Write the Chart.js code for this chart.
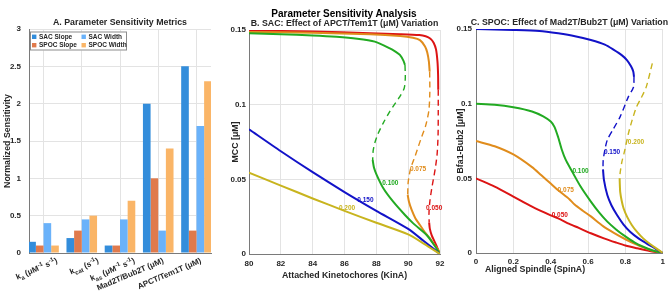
<!DOCTYPE html>
<html>
<head>
<meta charset="utf-8">
<title>Parameter Sensitivity Analysis</title>
<script src="https://cdn.jsdelivr.net/npm/chart.js@4.4.1/dist/chart.umd.min.js"></script>
<style>
  html, body { margin:0; padding:0; background:#ffffff; }
  body { width:669px; height:294px; position:relative; overflow:hidden; }
  .panel { position:absolute; top:0; }
  .panel canvas { display:block; }
  #mainTitle { position:absolute; left:344px; top:13px; transform:translate(-50%,-50%);
    font:bold 10px "Liberation Sans", Arial, sans-serif; color:#000; white-space:nowrap; }
</style>
</head>
<body>
<div class="panel" style="left:0px"><canvas id="chartA" width="230" height="294"></canvas></div>
<div class="panel" style="left:225px"><canvas id="chartB" width="230" height="294"></canvas></div>
<div class="panel" style="left:440px"><canvas id="chartC" width="229" height="294"></canvas></div>
<div id="mainTitle">Parameter Sensitivity Analysis</div>
<script>
// ================= DATA =================
// Panel A: parameter sensitivity metrics
const paramCategories = ['k_{a} (\u03BCM^{-1} s^{-1})', 'k_{cat} (s^{-1})', 'k_{as} (\u03BCM^{-1} s^{-1})', 'Mad2T/Bub2T (\u03BCM)', 'APCT/Tem1T (\u03BCM)'];
const metricNames = ['SAC Slope', 'SPOC Slope', 'SAC Width', 'SPOC Width'];
const sacSlope   = [0.15, 0.20, 0.10, 2.00, 2.50];
const spocSlope  = [0.10, 0.30, 0.10, 1.00, 0.30];
const sacWidth   = [0.40, 0.45, 0.45, 0.30, 1.70];
const spocWidth  = [0.10, 0.50, 0.70, 1.40, 2.30];
const sensTicks  = [0, 0.5, 1, 1.5, 2, 2.5, 3];
const sensTickLabels = ['0', '0.5', '1', '1.5', '2', '2.5', '3'];

// Panel B: SAC, MCC vs attached kinetochores for APCT/Tem1T levels
const apcLevels = ['0.050', '0.075', '0.100', '0.150', '0.200'];
const sac050Upper = [[80,0.1496],[84,0.1490],[87.6,0.1478],[89.5,0.1472],[90.7,0.1466],[91.1,0.1458],[91.4,0.1442],[91.6,0.1415],[91.75,0.137],[91.84,0.129],[91.88,0.12],[91.89,0.11]];
const sac050Mid   = [[91.89,0.11],[91.89,0.095],[91.88,0.08],[91.82,0.067],[91.7,0.057],[91.5,0.045],[91.37,0.036],[91.31,0.028],[91.32,0.021]];
const sac050Lower = [[91.32,0.021],[91.36,0.017],[91.48,0.0125],[91.65,0.0085],[91.8,0.005],[91.92,0.0018],[92,0]];
const sac075Upper = [[80,0.1487],[84,0.1481],[87.6,0.1472],[89.5,0.146],[90.3,0.1448],[90.74,0.1432],[91.06,0.139],[91.2,0.135],[91.3,0.129],[91.35,0.1222]];
const sac075Mid   = [[91.35,0.1222],[91.36,0.108],[91.3,0.096],[91.1,0.086],[90.8,0.077],[90.45,0.066],[90.15,0.057],[90.0,0.048],[89.97,0.0395]];
const sac075Lower = [[89.97,0.0395],[90.05,0.035],[90.22,0.0295],[90.45,0.024],[90.74,0.0194],[91.05,0.0145],[91.37,0.0105],[91.65,0.006],[91.9,0.0025],[92,0]];
const sac100Upper = [[80,0.1478],[82,0.1472],[84,0.1464],[85.5,0.1455],[86.8,0.1442],[87.9,0.1422],[88.85,0.1377],[89.2,0.1355],[89.48,0.1333],[89.7,0.1295],[89.8,0.1266]];
const sac100Mid   = [[89.8,0.1266],[89.82,0.118],[89.75,0.111],[89.45,0.105],[89.1,0.0995],[88.85,0.0955],[88.45,0.088],[88.12,0.0808],[87.92,0.075],[87.8,0.069],[87.77,0.063]];
const sac100Lower = [[87.77,0.063],[87.85,0.058],[88.02,0.053],[88.44,0.044],[89.06,0.035],[89.8,0.0261],[90.32,0.0205],[91.16,0.0127],[91.6,0.0065],[92,0]];
const sac150Lower = [[80,0.0835],[82,0.0688],[84,0.0548],[86,0.0415],[88,0.0289],[90,0.0168],[91,0.0085],[92,0]];
const sac200Lower = [[80,0.0545],[82,0.0458],[84,0.0372],[86,0.0289],[88,0.0209],[90,0.0131],[91,0.0068],[92,0]];
const sacXTicks = [80, 82, 84, 86, 88, 90, 92];
const sacXTickLabels = ['80', '82', '84', '86', '88', '90', '92'];
const mccTicks = [0, 0.05, 0.1, 0.15];
const mccTickLabels = ['0', '0.05', '0.1', '0.15'];
const sacLabelX = [91.12, 90.11, 88.37, 86.8, 85.65];
const sacLabelY = [0.0306, 0.0567, 0.0473, 0.0362, 0.0306];

// Panel C: SPOC, Bfa1-Bub2 vs aligned spindle for Mad2T/Bub2T levels
const madLevels = ['0.050', '0.075', '0.100', '0.150', '0.200'];
const spoc050 = [[0,0.05],[0.1,0.0445],[0.2,0.0378],[0.3,0.031],[0.4,0.0252],[0.44,0.0232],[0.5,0.0195],[0.55,0.0168],[0.615,0.0132],[0.685,0.0098],[0.75,0.007],[0.8,0.005],[0.86,0.0032],[0.93,0.0013],[1,0]];
const spoc075 = [[0,0.075],[0.1,0.0715],[0.2,0.066],[0.3,0.0575],[0.35,0.052],[0.4,0.0465],[0.44,0.042],[0.5,0.036],[0.528,0.0325],[0.57,0.0285],[0.615,0.0245],[0.68,0.018],[0.738,0.0135],[0.8,0.0092],[0.86,0.0056],[0.93,0.0022],[1,0]];
const spoc100 = [[0,0.1],[0.1,0.0993],[0.2,0.0976],[0.3,0.0948],[0.36,0.0915],[0.4,0.088],[0.42,0.0845],[0.44,0.0775],[0.46,0.069],[0.48,0.0625],[0.51,0.0556],[0.56,0.0445],[0.615,0.0344],[0.66,0.027],[0.703,0.021],[0.75,0.0158],[0.79,0.012],[0.85,0.007],[0.895,0.0042],[0.95,0.0015],[1,0]];
const spoc150Upper = [[0,0.15],[0.2,0.1494],[0.34,0.1487],[0.44,0.1471],[0.53,0.1452],[0.615,0.1426],[0.69,0.1395],[0.738,0.136],[0.78,0.1325],[0.808,0.1292],[0.83,0.125],[0.842,0.1215],[0.846,0.118]];
const spoc150Mid   = [[0.846,0.118],[0.843,0.111],[0.816,0.1047],[0.772,0.0913],[0.735,0.083],[0.703,0.0757],[0.69,0.069],[0.681,0.062],[0.68,0.056]];
const spoc150Lower = [[0.68,0.056],[0.685,0.049],[0.703,0.0388],[0.725,0.032],[0.755,0.0254],[0.79,0.019],[0.825,0.0143],[0.87,0.0098],[0.912,0.0065],[0.96,0.003],[1,0]];
const spoc200Mid   = [[0.944,0.127],[0.912,0.1114],[0.885,0.104],[0.86,0.098],[0.836,0.089],[0.816,0.08],[0.795,0.068],[0.781,0.061],[0.772,0.054],[0.769,0.05]];
const spoc200Lower = [[0.769,0.05],[0.77,0.046],[0.772,0.041],[0.78,0.035],[0.79,0.030],[0.81,0.024],[0.834,0.0188],[0.86,0.0145],[0.895,0.0098],[0.93,0.0062],[0.965,0.0031],[1,0]];
const spinTicks = [0, 0.2, 0.4, 0.6, 0.8, 1];
const spinTickLabels = ['0', '0.2', '0.4', '0.6', '0.8', '1'];
const bfaTicks = [0, 0.05, 0.1, 0.15];
const bfaTickLabels = ['0', '0.05', '0.1', '0.15'];
const spocLabelX = [0.405, 0.437, 0.516, 0.685, 0.813];
const spocLabelY = [0.0252, 0.0422, 0.0545, 0.0672, 0.0745];

// ================= STYLE =================
const FONT = '"Liberation Sans", Arial, Helvetica, sans-serif';
Chart.defaults.font.family = FONT;
Chart.defaults.font.weight = 'bold';
Chart.defaults.font.size = 8;
Chart.defaults.color = '#262626';
Chart.defaults.animation = false;

const GRID = '#e3e3e3';
const AXIS = '#7a7a7a';
const TXT = '#262626';
const barColors = ['rgb(51,141,219)', 'rgb(224,122,76)', 'rgb(106,178,250)', 'rgb(250,181,103)'];
const levelColors = ['#dc1414', '#e08c1c', '#22aa22', '#1212c8', '#c8b41e'];

function fnt(sz) { return 'bold ' + sz + 'px ' + FONT; }
function txt(ctx, s, x, y, o) {
  ctx.save();
  ctx.font = fnt(o.size || 8.8);
  ctx.fillStyle = o.color || TXT;
  ctx.textAlign = o.align || 'center';
  ctx.textBaseline = o.base || 'middle';
  ctx.translate(x, y);
  if (o.rot) ctx.rotate(o.rot);
  ctx.fillText(s, 0, 0);
  ctx.restore();
}
function parseRich(s) {
  const segs = []; let buf = ''; let i = 0;
  while (i < s.length) {
    const c = s[i];
    if ((c === '_' || c === '^') && s[i + 1] === '{') {
      if (buf) { segs.push({ t: buf, m: 0 }); buf = ''; }
      const j = s.indexOf('}', i + 2);
      segs.push({ t: s.slice(i + 2, j), m: c === '_' ? -1 : 1 });
      i = j + 1;
    } else { buf += c; i++; }
  }
  if (buf) segs.push({ t: buf, m: 0 });
  return segs;
}
function richWidth(ctx, segs, sz) {
  let w = 0;
  segs.forEach(g => { ctx.font = fnt(g.m ? sz * 0.75 : sz); w += ctx.measureText(g.t).width; });
  return w;
}
function drawRich(ctx, segs, x, y, sz) {
  segs.forEach(g => {
    ctx.font = fnt(g.m ? sz * 0.75 : sz);
    const dy = g.m === -1 ? sz * 0.3 : (g.m === 1 ? -sz * 0.4 : 0);
    ctx.fillText(g.t, x, y + dy);
    x += ctx.measureText(g.t).width;
  });
}
const pts = arr => arr.map(p => ({ x: p[0], y: p[1] }));
const fixW = w => s => { s.width = w; };
const fixH = h => s => { s.height = h; };
const setTicks = vals => s => { s.ticks = vals.map(v => ({ value: v })); };

// ================= PANEL A =================
const barSeries = [sacSlope, spocSlope, sacWidth, spocWidth];
const labelShift = [12, 15, 13, 3.5, 3];

const panelAText = {
  id: 'panelAText',
  afterDraw(chart) {
    const ctx = chart.ctx, a = chart.chartArea, xs = chart.scales.x;
    txt(ctx, 'A. Parameter Sensitivity Metrics', (a.left + a.right) / 2, 23, {});
    txt(ctx, 'Normalized Sensitivity', 8, (a.top + a.bottom) / 2, { rot: -Math.PI / 2 });
    ctx.save();
    ctx.fillStyle = TXT; ctx.textBaseline = 'alphabetic'; ctx.textAlign = 'left';
    paramCategories.forEach((lab, i) => {
      const segs = parseRich(lab);
      const px = xs.getPixelForValue(i + 1) + labelShift[i];
      ctx.save();
      ctx.translate(px, a.bottom + 4);
      ctx.rotate(-23 * Math.PI / 180);
      const w = richWidth(ctx, segs, 8);
      drawRich(ctx, segs, -w, 6, 8);
      ctx.restore();
    });
    ctx.restore();
    const bx = a.left + 1, by = a.top + 2.5, bw = 97, bh = 19;
    ctx.save();
    ctx.fillStyle = '#ffffff'; ctx.fillRect(bx, by, bw, bh);
    ctx.strokeStyle = '#8c8c8c'; ctx.lineWidth = 1; ctx.strokeRect(bx + 0.5, by + 0.5, bw - 1, bh - 1);
    chart.data.datasets.forEach((ds, k) => {
      const col = Math.floor(k / 2), row = k % 2;
      const sx = bx + 2 + col * 49.5, sy = by + 5.3 + row * 8.4;
      ctx.fillStyle = ds.backgroundColor;
      ctx.fillRect(sx, sy - 2.2, 4.4, 4.4);
      txt(ctx, ds.label, sx + 7, sy + 0.3, { size: 6.5, align: 'left' });
    });
    ctx.restore();
  }
};

new Chart(document.getElementById('chartA'), {
  type: 'bar',
  data: {
    datasets: barSeries.map((s, k) => ({
      label: metricNames[k],
      data: s.map((v, i) => ({ x: i + 1, y: v })),
      backgroundColor: barColors[k],
      borderWidth: 0
    }))
  },
  options: {
    responsive: false,
    animation: false,
    layout: { padding: { top: 29, right: 19, bottom: 0, left: 0 } },
    plugins: { legend: { display: false }, tooltip: { enabled: false }, title: { display: false } },
    datasets: { bar: { barPercentage: 1.0, categoryPercentage: 0.8 } },
    scales: {
      x: {
        type: 'linear', min: 0.62, max: 5.38, offset: false,
        grid: { offset: false, color: GRID, drawTicks: false },
        border: { color: AXIS },
        ticks: { display: false },
        afterBuildTicks: setTicks([1, 2, 3, 4, 5]),
        afterFit: fixH(41)
      },
      y: {
        min: 0, max: 3,
        grid: { color: GRID, drawTicks: false },
        border: { color: AXIS },
        ticks: { padding: 8, callback: (v, i) => sensTickLabels[i] },
        afterBuildTicks: setTicks(sensTicks),
        afterFit: fixW(29)
      }
    }
  },
  plugins: [panelAText]
});

// ================= line panel helper =================
function branchDatasets(branches) {
  const ds = branches.map(b => ({
    data: pts(b[0]),
    borderColor: levelColors[b[1]],
    borderWidth: b[2] ? 1.4 : 2,
    borderDash: b[2] ? [6, 4] : [],
    pointRadius: 0,
    tension: 0.25,
    fill: false
  }));
  return ds.reverse();
}

function lineOptions(cfg) {
  return {
    responsive: false,
    animation: false,
    layout: { padding: { top: cfg.top, right: cfg.right, bottom: 0, left: 0 } },
    plugins: { legend: { display: false }, tooltip: { enabled: false }, title: { display: false } },
    scales: {
      x: {
        type: 'linear', min: cfg.xmin, max: cfg.xmax,
        grid: { color: GRID, drawTicks: false },
        border: { color: AXIS },
        ticks: { padding: cfg.xpad, maxRotation: 0, callback: (v, i) => cfg.xLabels[i] },
        afterBuildTicks: setTicks(cfg.xTicks),
        afterFit: fixH(cfg.xh)
      },
      y: {
        type: 'linear', min: cfg.ymin, max: cfg.ymax,
        grid: { color: GRID, drawTicks: false },
        border: { color: AXIS },
        ticks: { padding: cfg.ypad, callback: (v, i) => cfg.yLabels[i] },
        afterBuildTicks: setTicks(cfg.yTicks),
        afterFit: fixW(cfg.yw)
      }
    }
  };
}

// ================= PANEL B =================
const panelBText = {
  id: 'panelBText',
  afterDraw(chart) {
    const ctx = chart.ctx, a = chart.chartArea, xs = chart.scales.x, ys = chart.scales.y;
    txt(ctx, 'B. SAC: Effect of APCT/Tem1T (\u03BCM) Variation', (a.left + a.right) / 2, 24, {});
    txt(ctx, 'Attached Kinetochores (KinA)', (a.left + a.right) / 2, 275.5, {});
    txt(ctx, 'MCC [\u03BCM]', 11, (a.top + a.bottom) / 2, { rot: -Math.PI / 2 });
    apcLevels.forEach((lv, i) => {
      txt(ctx, lv, xs.getPixelForValue(sacLabelX[i]), ys.getPixelForValue(sacLabelY[i]),
        { size: 6.5, align: 'left', color: levelColors[i] });
    });
  }
};

new Chart(document.getElementById('chartB'), {
  type: 'line',
  data: {
    datasets: branchDatasets([
      [sac050Upper, 0, false], [sac050Mid, 0, true], [sac050Lower, 0, false],
      [sac075Upper, 1, false], [sac075Mid, 1, true], [sac075Lower, 1, false],
      [sac100Upper, 2, false], [sac100Mid, 2, true], [sac100Lower, 2, false],
      [sac150Lower, 3, false],
      [sac200Lower, 4, false]
    ])
  },
  options: lineOptions({
    top: 30, right: 15, xh: 40, yw: 24, ypad: 3, xpad: 5,
    xmin: 80, xmax: 92, ymin: 0, ymax: 0.15,
    xTicks: sacXTicks, xLabels: sacXTickLabels, yTicks: mccTicks, yLabels: mccTickLabels
  }),
  plugins: [panelBText]
});

// ================= PANEL C =================
const panelCText = {
  id: 'panelCText',
  afterDraw(chart) {
    const ctx = chart.ctx, a = chart.chartArea, xs = chart.scales.x, ys = chart.scales.y;
    txt(ctx, 'C. SPOC: Effect of Mad2T/Bub2T (\u03BCM) Variation', (a.left + a.right) / 2, 23, {});
    txt(ctx, 'Aligned Spindle (SpinA)', 95, 269.5, {});
    txt(ctx, 'Bfa1-Bub2 [\u03BCM]', 21, (a.top + a.bottom) / 2, { rot: -Math.PI / 2 });
    madLevels.forEach((lv, i) => {
      txt(ctx, lv, xs.getPixelForValue(spocLabelX[i]), ys.getPixelForValue(spocLabelY[i]),
        { size: 6.5, align: 'left', color: levelColors[i] });
    });
  }
};

new Chart(document.getElementById('chartC'), {
  type: 'line',
  data: {
    datasets: branchDatasets([
      [spoc050, 0, false],
      [spoc075, 1, false],
      [spoc100, 2, false],
      [spoc150Upper, 3, false], [spoc150Mid, 3, true], [spoc150Lower, 3, false],
      [spoc200Mid, 4, true], [spoc200Lower, 4, false]
    ])
  },
  options: lineOptions({
    top: 29, right: 2, xh: 41, yw: 36, ypad: 4, xpad: 4,
    xmin: 0, xmax: 1, ymin: 0, ymax: 0.15,
    xTicks: spinTicks, xLabels: spinTickLabels, yTicks: bfaTicks, yLabels: bfaTickLabels
  }),
  plugins: [panelCText]
});
</script>
</body>
</html>
